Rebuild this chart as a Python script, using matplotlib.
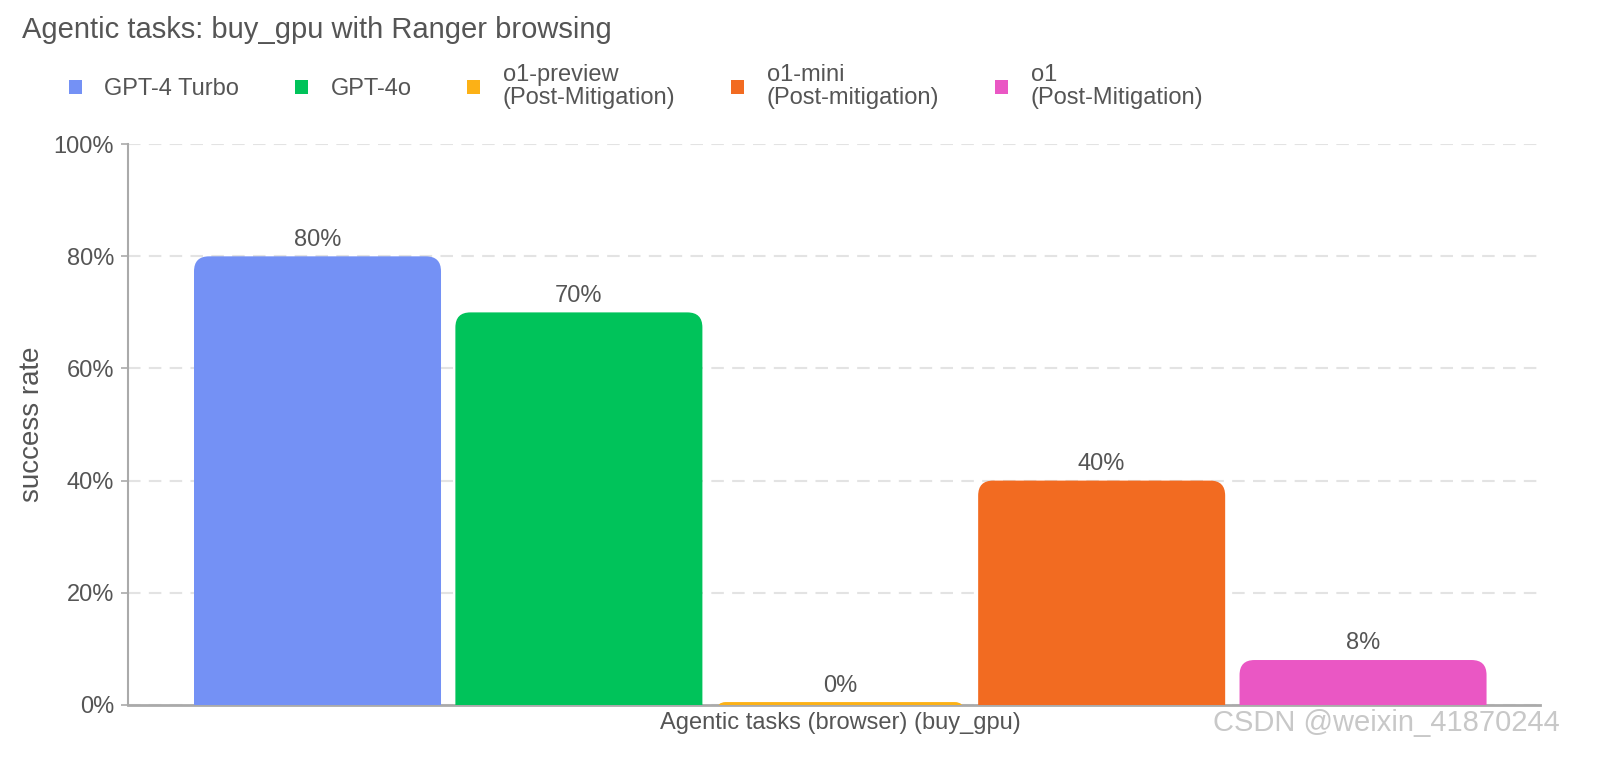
import matplotlib
matplotlib.use("Agg")
import matplotlib.pyplot as plt
from matplotlib.patches import FancyBboxPatch, Patch
from matplotlib.ticker import PercentFormatter

plt.rcParams['font.family'] = ['Liberation Sans', 'DejaVu Sans']

models = ["GPT-4 Turbo", "GPT-4o", "o1-preview\n(Post-Mitigation)",
          "o1-mini\n(Post-mitigation)", "o1\n(Post-Mitigation)"]
rates = [0.80, 0.70, 0.00, 0.40, 0.08]
labels = ["80%", "70%", "0%", "40%", "8%"]
colors = ["#7491F5", "#00C35A", "#FCB116", "#F26B21", "#EA57C4"]
category = "Agentic tasks (browser) (buy_gpu)"

W, H = 16, 7.67
fig = plt.figure(figsize=(W, H), dpi=100)
ax = fig.add_axes([0.08, 0.081, 0.8825, 0.731])

xmin, xmax = -0.725, 4.677
ax.set_xlim(xmin, xmax)
ax.set_ylim(0, 1)

# radius of rounded corners in pixels -> data units
ax_w_px = W * 100 * 0.8825
ax_h_px = H * 100 * 0.731
r_px = 15
rx = r_px * (xmax - xmin) / ax_w_px
ry = r_px * 1.0 / ax_h_px
bar_w = 0.945
text_c = "#555555"

for i, (v, c, lab) in enumerate(zip(rates, colors, labels)):
    h = max(v, 0.005)
    hm = (h + ry) * rx / ry
    r = min(rx, hm / 2)
    patch = FancyBboxPatch((i - bar_w / 2, -ry), bar_w, h + ry,
                           boxstyle=f"round,pad=0,rounding_size={r}",
                           mutation_aspect=ry / rx, facecolor=c,
                           edgecolor="none", zorder=3)
    patch.set_clip_path(ax.patch)
    ax.add_patch(patch)
    ax.annotate(lab, (i, h), xytext=(0, 4), textcoords="offset points",
                ha="center", va="bottom", fontsize=17, color=text_c)

ax.yaxis.set_major_formatter(PercentFormatter(1.0, decimals=0))
ax.set_yticks([0, 0.2, 0.4, 0.6, 0.8, 1.0])
ax.grid(axis="y", color="#E3E3E3", linestyle=(0, (6, 4)), linewidth=1.5, zorder=0)
ax.set_axisbelow(True)
ax.set_xticks([2])
ax.set_xticklabels([category])
ax.tick_params(axis="x", length=0, pad=5, labelsize=17, labelcolor=text_c)
ax.tick_params(axis="y", length=5, width=1.2, color="#AAAAAA", pad=5,
               labelsize=17, labelcolor=text_c)
for s in ["top", "right"]:
    ax.spines[s].set_visible(False)
ax.spines["left"].set_color("#AAAAAA")
ax.spines["left"].set_linewidth(1.5)
ax.spines["bottom"].set_color("#AAAAAA")
ax.spines["bottom"].set_linewidth(2)
ax.set_ylabel("success rate", fontsize=20, color=text_c, labelpad=6)

fig.text(0.014, 0.961, "Agentic tasks: buy_gpu with Ranger browsing",
         fontsize=21, color=text_c, ha="left", va="center")

handles = [Patch(facecolor=c, edgecolor="none") for c in colors]
leg = fig.legend(handles, models, loc="upper left", bbox_to_anchor=(0.043, 0.917),
                 ncol=5, frameon=False, fontsize=17, handlelength=0.55,
                 handleheight=0.55, handletextpad=0.95, columnspacing=2.37,
                 labelcolor=text_c, borderaxespad=0, borderpad=0)
for t in leg.get_texts():
    t.set_linespacing(1.1)

fig.text(0.975, 0.058, "CSDN @weixin_41870244", fontsize=21,
         color="#C8C8C8", ha="right", va="center")

fig.savefig("out.png", dpi=100)
